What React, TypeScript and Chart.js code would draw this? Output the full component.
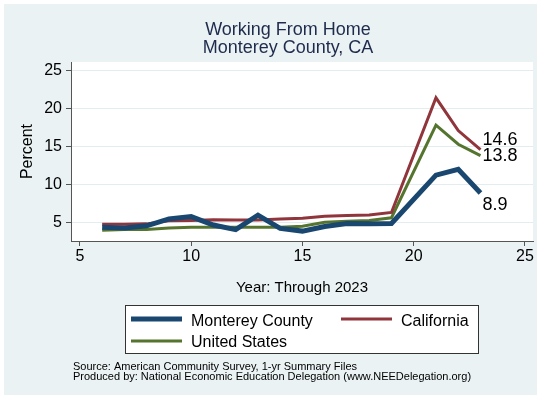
import React, { useEffect, useRef } from "react";
import { Chart, registerables } from "chart.js";

Chart.register(...registerables);

// ---- data ----
const years = [6, 7, 8, 9, 10, 11, 12, 13, 14, 15, 16, 17, 18, 19, 21, 22, 23];
const monterey = [4.4, 4.3, 4.6, 5.5, 5.8, 4.7, 4.1, 6.0, 4.25, 3.9, 4.5, 4.9, 4.85, 4.9, 11.25, 12.0, 8.9];
const california = [4.8, 4.8, 4.85, 5.25, 5.3, 5.4, 5.35, 5.35, 5.5, 5.6, 5.85, 5.95, 6.0, 6.35, 21.4, 17.1, 14.6];
const unitedStates = [4.0, 4.1, 4.1, 4.3, 4.4, 4.4, 4.4, 4.4, 4.4, 4.55, 5.05, 5.2, 5.3, 5.65, 17.8, 15.3, 13.8];
const seriesNames = ["Monterey County", "California", "United States"];
const xTicks = [5, 10, 15, 20, 25];
const yTicks = [5, 10, 15, 20, 25];
const titleLines = ["Working From Home", "Monterey County, CA"];
const xTitle = "Year: Through 2023";
const yTitle = "Percent";
const notes = [
  "Source: American Community Survey, 1-yr Summary Files",
  "Produced by: National Economic Education Delegation (www.NEEDelegation.org)",
];

// ---- styles ----
const FONT = '"Liberation Sans", Arial, Helvetica, sans-serif';
const BG = "#eaf2f3";
const colors = ["#1a476f", "#90353b", "#55752f"];
const widths = [5, 3, 3];
const labelDy = [12, -10, 0];

const decorPlugin = {
  id: "decor",
  beforeDraw(chart: any) {
    const { ctx, chartArea } = chart;
    ctx.save();
    ctx.fillStyle = "#ffffff";
    ctx.fillRect(0, 0, chart.width, chart.height);
    ctx.fillStyle = BG;
    ctx.fillRect(4, 4, 533, 391);
    ctx.fillStyle = "#ffffff";
    ctx.fillRect(chartArea.left, chartArea.top, chartArea.right - chartArea.left, chartArea.bottom - chartArea.top);
    ctx.restore();
  },
  afterDraw(chart: any) {
    const { ctx } = chart;
    const xs = chart.scales.x;
    const ys = chart.scales.y;
    ctx.save();
    // title
    ctx.fillStyle = "#1e2b4d";
    ctx.font = `18px ${FONT}`;
    ctx.textAlign = "center";
    ctx.textBaseline = "alphabetic";
    ctx.fillText(titleLines[0], 288, 34.5);
    ctx.fillText(titleLines[1], 288, 52.5);

    // value labels at last point
    ctx.fillStyle = "#000";
    ctx.font = `18px ${FONT}`;
    ctx.textAlign = "left";
    ctx.textBaseline = "middle";
    chart.data.datasets.forEach((ds: any, i: number) => {
      const last = ds.data[ds.data.length - 1];
      const px = xs.getPixelForValue(last.x);
      const py = ys.getPixelForValue(last.y);
      ctx.fillText(last.y.toFixed(1), px + 2, py + labelDy[i]);
    });

    // legend
    ctx.fillStyle = "#ffffff";
    ctx.fillRect(125, 305, 354, 49);
    ctx.strokeStyle = "#333";
    ctx.lineWidth = 1;
    ctx.strokeRect(125.5, 305.5, 353, 48);
    const pos = [
      [131, 319, 325.5],
      [341, 319, 325.5],
      [131, 341, 347],
    ];
    ctx.font = `16px ${FONT}`;
    ctx.textBaseline = "alphabetic";
    chart.data.datasets.forEach((ds: any, i: number) => {
      const [lx, ly, ty] = pos[i];
      ctx.strokeStyle = ds.borderColor;
      ctx.lineWidth = ds.borderWidth;
      ctx.beginPath();
      ctx.moveTo(lx, ly);
      ctx.lineTo(lx + 51, ly);
      ctx.stroke();
      ctx.fillStyle = "#000";
      ctx.fillText(ds.label, lx + 60, ty);
    });

    // notes
    ctx.font = `11px ${FONT}`;
    ctx.fillStyle = "#000";
    ctx.fillText(notes[0], 73, 370);
    ctx.fillText(notes[1], 73, 379.5);
    ctx.restore();
  },
};

export default function App() {
  const ref = useRef<HTMLCanvasElement | null>(null);
  useEffect(() => {
    if (!ref.current) return;
    const series = [monterey, california, unitedStates];
    const chart = new Chart(ref.current, {
      type: "line",
      data: {
        datasets: series.map((vals, i) => ({
          label: seriesNames[i],
          data: vals.map((v, j) => ({ x: years[j], y: v })),
          borderColor: colors[i],
          backgroundColor: colors[i],
          borderWidth: widths[i],
          pointRadius: 0,
          tension: 0,
          fill: false,
        })),
      },
      options: {
        responsive: false,
        animation: false,
        devicePixelRatio: 1,
        layout: { padding: { left: 0, top: 62, right: 14, bottom: 96 } },
        plugins: { legend: { display: false }, title: { display: false }, tooltip: { enabled: false } },
        scales: {
          x: {
            type: "linear",
            min: 4.6,
            max: 25.36,
            afterBuildTicks: (s: any) => {
              s.ticks = xTicks.map((v) => ({ value: v }));
            },
            afterFit: (s: any) => {
              s.height = 60;
            },
            grid: { drawOnChartArea: false, tickLength: 5, tickColor: "#555" },
            border: { color: "#555", width: 1 },
            ticks: { color: "#000", font: { size: 16, family: FONT }, padding: 1, maxRotation: 0 },
            title: { display: true, text: xTitle, color: "#000", font: { size: 15, family: FONT }, padding: { top: 0, bottom: 4 } },
          },
          y: {
            type: "linear",
            min: 2.6,
            max: 26.1,
            afterBuildTicks: (s: any) => {
              s.ticks = yTicks.map((v) => ({ value: v }));
            },
            afterFit: (s: any) => {
              s.width = 71;
            },
            grid: { color: "#e3ecee", tickLength: 5, tickColor: "#555" },
            border: { color: "#555", width: 1 },
            ticks: { color: "#000", font: { size: 16, family: FONT }, padding: 4 },
            title: { display: true, text: yTitle, color: "#000", font: { size: 16, family: FONT }, padding: { top: 18, bottom: 0 } },
          },
        },
      },
      plugins: [decorPlugin],
    });
    return () => chart.destroy();
  }, []);
  return (
    <div style={{ position: "absolute", left: 0, top: 0, width: 547, height: 397 }}>
      <canvas ref={ref} width={547} height={397} style={{ display: "block", width: 547, height: 397 }} />
    </div>
  );
}
